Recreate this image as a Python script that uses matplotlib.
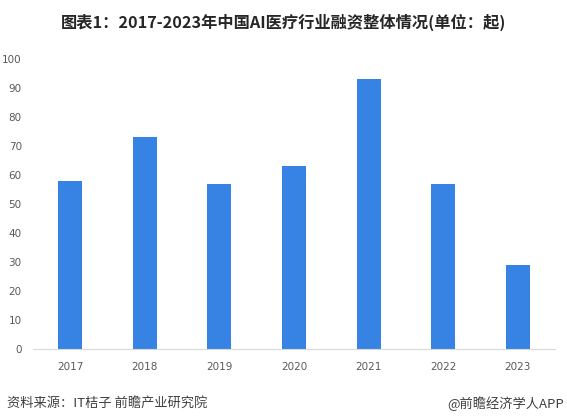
import matplotlib
matplotlib.use('Agg')
import matplotlib.pyplot as plt

plt.rcParams['font.family'] = ['Noto Sans CJK SC', 'DejaVu Sans']

years = ['2017', '2018', '2019', '2020', '2021', '2022', '2023']
counts = [58, 73, 57, 63, 93, 57, 29]
yticks = [0, 10, 20, 30, 40, 50, 60, 70, 80, 90, 100]

title = '图表1：2017-2023年中国AI医疗行业融资整体情况(单位：起)'
source = '资料来源：IT桔子 前瞻产业研究院'
credit = '@前瞻经济学人APP'

fig = plt.figure(figsize=(5.67, 4.2), dpi=100)
ax = fig.add_axes([0.058, 0.169, 0.921, 0.691])

x = range(len(years))
ax.bar(x, counts, width=0.32, color='#3683e3', zorder=2)

ax.set_xlim(-0.5, len(years) - 0.5)
ax.set_ylim(0, 100)
ax.set_xticks(list(x))
ax.set_xticklabels(years, fontsize=7.5, color='#595959', family='DejaVu Sans')
ax.set_yticks(yticks)
ax.set_yticklabels([str(v) for v in yticks], fontsize=7.5, color='#595959', family='DejaVu Sans')
ax.tick_params(axis='x', length=0, pad=9)
ax.tick_params(axis='y', length=0, pad=8)

for s in ['top', 'right', 'left']:
    ax.spines[s].set_visible(False)
ax.spines['bottom'].set_color('#d9d9d9')
ax.spines['bottom'].set_linewidth(0.8)

fig.text(0.5, 0.947, title, ha='center', va='center', fontsize=11.7, fontweight='bold', color='#262626')
fig.text(0.012, 0.04, source, ha='left', va='center', fontsize=9.5, color='#404040')
fig.text(0.995, 0.04, credit, ha='right', va='center', fontsize=9.5, color='#404040')

fig.savefig('out.png', dpi=100, facecolor='white')
